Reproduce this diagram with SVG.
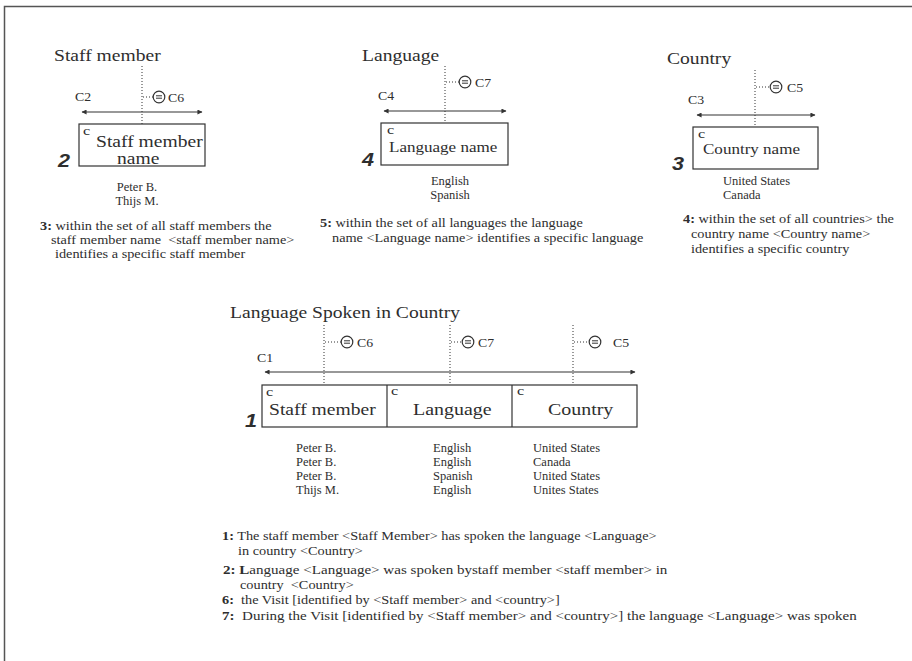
<svg xmlns="http://www.w3.org/2000/svg" width="912" height="661" viewBox="0 0 912 661">
<defs>
<marker id="ah" viewBox="0 0 6 6" refX="5.5" refY="3" markerWidth="6" markerHeight="5" markerUnits="userSpaceOnUse" orient="auto-start-reverse">
<path d="M0,0 L6,3 L0,6 z" fill="#333"/>
</marker>
<g id="eq">
<circle cx="0" cy="0" r="5.8" fill="none" stroke="#333" stroke-width="1.2"/>
<line x1="-3" y1="-1.2" x2="3" y2="-1.2" stroke="#333" stroke-width="1"/>
<line x1="-3" y1="1.2" x2="3" y2="1.2" stroke="#333" stroke-width="1"/>
</g>
</defs>
<style>
text{font-family:"Liberation Serif","Times New Roman",serif;fill:#2e2e2e}
.t{font-size:17.5px}
.big{font-size:17.5px}
.mid{font-size:15.5px}
.c{font-size:13.5px}
.cl{font-size:11.5px}
.v{font-size:12.5px}
.a{font-size:13px}
.n{font-family:"Liberation Sans",Arial,sans-serif;font-weight:bold;font-style:italic;font-size:18px}
.b{font-weight:bold}
.box{fill:none;stroke:#333;stroke-width:1.2}
.dot{stroke:#333;stroke-width:1;stroke-dasharray:1 2;fill:none}
.uc{stroke:#333;stroke-width:1.2;fill:none;marker-start:url(#ah);marker-end:url(#ah)}
.frame{stroke:#555;stroke-width:1.5;fill:none}
</style>
<rect width="912" height="661" fill="#fff"/>
<path class="frame" d="M4.5,661 V6.5 H912"/>

<g id="staff-member">
<text class="t" transform="matrix(1.12 0 0 1 54 61)">Staff member</text>
<rect class="box" x="79" y="124" width="126" height="42"/>
<text class="c" transform="matrix(1.2 0 0 1 83 135)">c</text>
<text class="big" transform="matrix(1.12 0 0 1 96 147)">Staff member</text>
<text class="big" transform="matrix(1.12 0 0 1 117 164)">name</text>
<text class="n" transform="matrix(1.2 0 0 1 58 167)">2</text>
<text class="v" text-anchor="middle" x="137" y="191">Peter B.</text>
<text class="v" text-anchor="middle" x="137" y="205">Thijs M.</text>
<text class="a" xml:space="preserve" transform="matrix(1.1 0 0 1 40 230)"><tspan class="b">3:</tspan> within the set of all staff members the</text>
<text class="a" xml:space="preserve" transform="matrix(1.1 0 0 1 51 244)">staff member name  &lt;staff member name&gt;</text>
<text class="a" xml:space="preserve" transform="matrix(1.1 0 0 1 55 258)">identifies a specific staff member</text>
</g>

<g id="language">
<text class="t" transform="matrix(1.12 0 0 1 362 61)">Language</text>
<rect class="box" x="381" y="123" width="127" height="42"/>
<text class="c" transform="matrix(1.2 0 0 1 387 134)">c</text>
<text class="mid" transform="matrix(1.1 0 0 1 389 152)">Language name</text>
<text class="n" transform="matrix(1.2 0 0 1 362 166)">4</text>
<text class="v" text-anchor="middle" x="450" y="185">English</text>
<text class="v" text-anchor="middle" x="450" y="199">Spanish</text>
<text class="a" xml:space="preserve" transform="matrix(1.1 0 0 1 320 227)"><tspan class="b">5:</tspan> within the set of all languages the language</text>
<text class="a" xml:space="preserve" transform="matrix(1.1 0 0 1 332 242)">name &lt;Language name&gt; identifies a specific language</text>
</g>

<g id="country">
<text class="t" transform="matrix(1.12 0 0 1 667 64)">Country</text>
<rect class="box" x="693" y="127" width="125" height="42"/>
<text class="c" transform="matrix(1.2 0 0 1 698 138)">c</text>
<text class="mid" transform="matrix(1.1 0 0 1 703 154)">Country name</text>
<text class="n" transform="matrix(1.2 0 0 1 672 170)">3</text>
<text class="v" x="723" y="185">United States</text>
<text class="v" x="723" y="199">Canada</text>
<text class="a" xml:space="preserve" transform="matrix(1.1 0 0 1 683 223)"><tspan class="b">4:</tspan> within the set of all countries&gt; the</text>
<text class="a" xml:space="preserve" transform="matrix(1.1 0 0 1 691 238)">country name &lt;Country name&gt;</text>
<text class="a" xml:space="preserve" transform="matrix(1.1 0 0 1 691 253)">identifies a specific country</text>
</g>

<g id="language-spoken-in-country">
<text class="t" transform="matrix(1.12 0 0 1 230 318)">Language Spoken in Country</text>
<rect class="box" x="262" y="385" width="375" height="42"/>
<line class="box" x1="387" y1="385" x2="387" y2="427"/>
<line class="box" x1="512" y1="385" x2="512" y2="427"/>
<text class="c" transform="matrix(1.2 0 0 1 266 396)">c</text>
<text class="c" transform="matrix(1.2 0 0 1 391 395)">c</text>
<text class="c" transform="matrix(1.2 0 0 1 517 395)">c</text>
<text class="big" transform="matrix(1.12 0 0 1 269 415)">Staff member</text>
<text class="big" transform="matrix(1.14 0 0 1 413 415)">Language</text>
<text class="big" transform="matrix(1.14 0 0 1 548 415)">Country</text>
<text class="n" transform="matrix(1.2 0 0 1 245 427)">1</text>
<text class="v" x="296" y="452">Peter B.</text>
<text class="v" x="296" y="466">Peter B.</text>
<text class="v" x="296" y="480">Peter B.</text>
<text class="v" x="296" y="494">Thijs M.</text>
<text class="v" x="433" y="452">English</text>
<text class="v" x="433" y="466">English</text>
<text class="v" x="433" y="480">Spanish</text>
<text class="v" x="433" y="494">English</text>
<text class="v" x="533" y="452">United States</text>
<text class="v" x="533" y="466">Canada</text>
<text class="v" x="533" y="480">United States</text>
<text class="v" x="533" y="494">Unites States</text>
<text class="a" xml:space="preserve" transform="matrix(1.1 0 0 1 222 540)"><tspan class="b">1:</tspan> The staff member &lt;Staff Member&gt; has spoken the language &lt;Language&gt;</text>
<text class="a" xml:space="preserve" transform="matrix(1.1 0 0 1 238 555)">in country &lt;Country&gt;</text>
<text class="a" xml:space="preserve" textLength="404" lengthAdjust="spacingAndGlyphs" transform="matrix(1.1 0 0 1 223 574)"><tspan class="b">2: L</tspan>anguage &lt;Language&gt; was spoken bystaff member &lt;staff member&gt; in</text>
<text class="a" xml:space="preserve" transform="matrix(1.1 0 0 1 240 589)">country  &lt;Country&gt;</text>
<text class="a" xml:space="preserve" transform="matrix(1.1 0 0 1 222 604)"><tspan class="b">6:</tspan>  the Visit [identified by &lt;Staff member&gt; and &lt;country&gt;]</text>
<text class="a" xml:space="preserve" textLength="577" lengthAdjust="spacingAndGlyphs" transform="matrix(1.1 0 0 1 222 620)"><tspan class="b">7:</tspan>  During the Visit [identified by &lt;Staff member&gt; and &lt;country&gt;] the language &lt;Language&gt; was spoken</text>
</g>

<g id="connectors">
<line class="uc" x1="82" y1="112" x2="202" y2="112"/>
<text class="cl" transform="matrix(1.2 0 0 1 75 101)">C2</text>
<line class="dot" x1="142" y1="66" x2="142" y2="124"/>
<line class="dot" x1="143" y1="97" x2="153" y2="97"/>
<use href="#eq" x="159" y="97"/>
<text class="cl" transform="matrix(1.2 0 0 1 168 102)">C6</text>

<line class="uc" x1="384" y1="111" x2="506" y2="111"/>
<text class="cl" transform="matrix(1.2 0 0 1 378 100)">C4</text>
<line class="dot" x1="445" y1="66" x2="445" y2="123"/>
<line class="dot" x1="446" y1="82" x2="459" y2="82"/>
<use href="#eq" x="465" y="82"/>
<text class="cl" transform="matrix(1.2 0 0 1 475 87)">C7</text>

<line class="uc" x1="697" y1="115" x2="815" y2="115"/>
<text class="cl" transform="matrix(1.2 0 0 1 688 104)">C3</text>
<line class="dot" x1="755" y1="70" x2="755" y2="127"/>
<line class="dot" x1="756" y1="87" x2="770" y2="87"/>
<use href="#eq" x="776" y="87"/>
<text class="cl" transform="matrix(1.2 0 0 1 787 92)">C5</text>

<line class="uc" x1="265" y1="372" x2="635" y2="372"/>
<text class="cl" transform="matrix(1.2 0 0 1 257 362)">C1</text>
<line class="dot" x1="324" y1="325" x2="324" y2="385"/>
<line class="dot" x1="325" y1="342" x2="341" y2="342"/>
<use href="#eq" x="347" y="342"/>
<text class="cl" transform="matrix(1.2 0 0 1 357 347)">C6</text>
<line class="dot" x1="450" y1="325" x2="450" y2="385"/>
<line class="dot" x1="451" y1="342" x2="462" y2="342"/>
<use href="#eq" x="468" y="342"/>
<text class="cl" transform="matrix(1.2 0 0 1 478 347)">C7</text>
<line class="dot" x1="573" y1="325" x2="573" y2="385"/>
<line class="dot" x1="574" y1="342" x2="589" y2="342"/>
<use href="#eq" x="595" y="342"/>
<text class="cl" transform="matrix(1.2 0 0 1 613 347)">C5</text>
</g>
</svg>
